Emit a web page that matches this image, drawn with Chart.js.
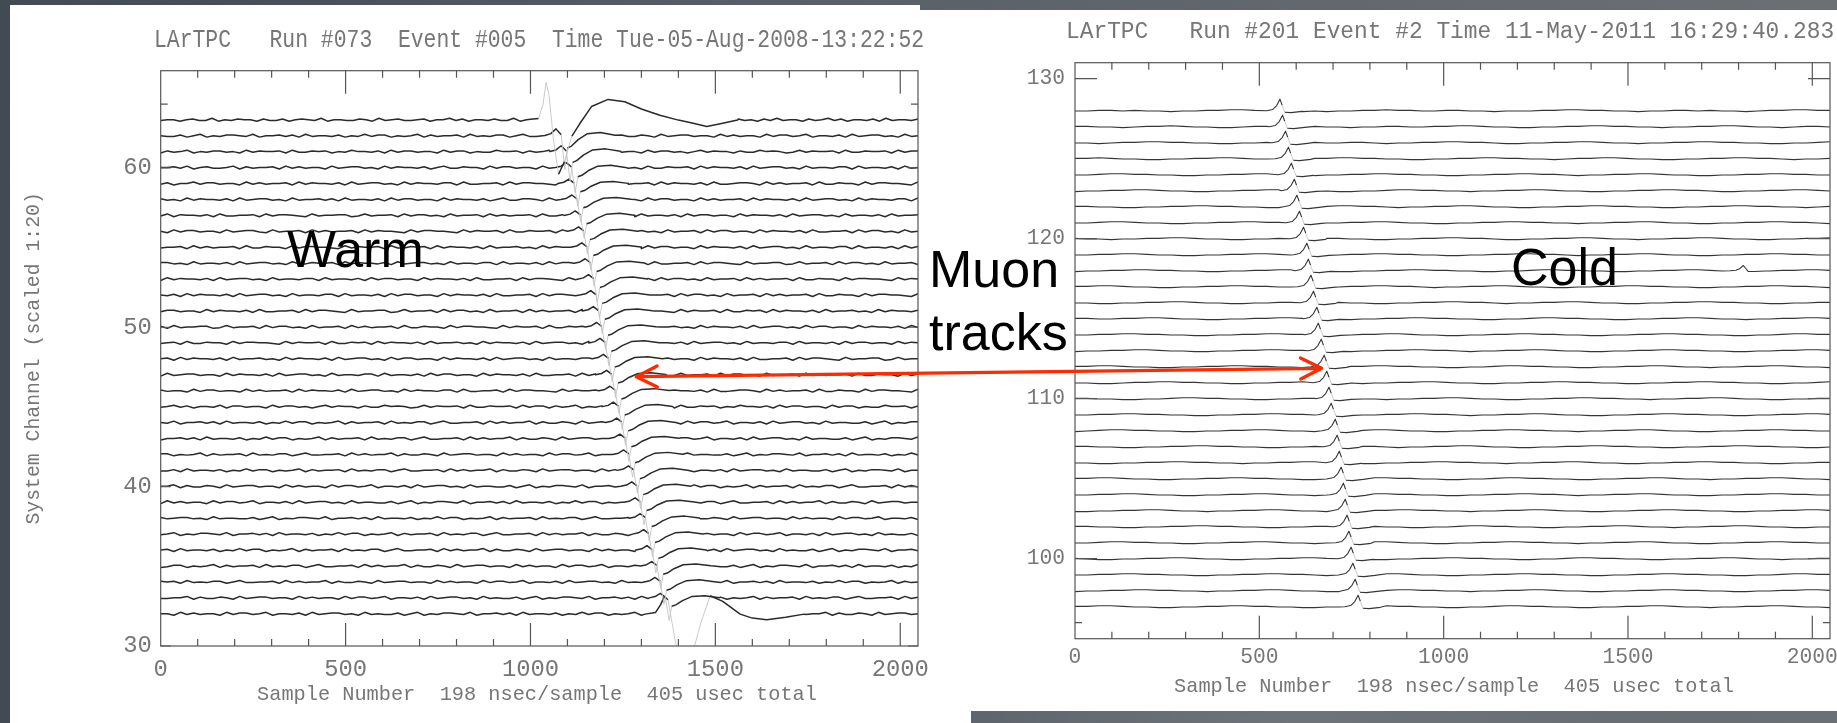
<!DOCTYPE html>
<html>
<head>
<meta charset="utf-8">
<title>LArTPC warm / cold muon tracks</title>
<script src="https://cdn.jsdelivr.net/npm/chart.js@4.4.1/dist/chart.umd.min.js"></script>
<style>
  html, body { margin: 0; padding: 0; }
  body {
    width: 1837px; height: 723px; overflow: hidden; position: relative;
    background-color: #555b62;
    background-image:
      radial-gradient(ellipse 300px 200px at 15% 20%, rgba(0,0,0,0.10), transparent),
      radial-gradient(ellipse 400px 120px at 70% 100%, rgba(255,255,255,0.08), transparent),
      linear-gradient(90deg, #424a54 0%, #5a6068 45%, #6b7075 100%);
  }
  .sheet { position: absolute; background: #fff; }
  canvas { position: absolute; }
</style>
</head>
<body>
<div class="sheet" style="left:10px;top:5px;width:910px;height:718px"></div>
<div class="sheet" style="left:920px;top:10px;width:917px;height:701px"></div>
<div class="sheet" style="left:920px;top:700px;width:51px;height:23px"></div>
<canvas id="warm" width="920" height="718" style="left:10px;top:5px"></canvas>
<canvas id="cold" width="847" height="701" style="left:990px;top:10px"></canvas>
<canvas id="notes" width="1837" height="723" style="left:0;top:0"></canvas>

<script>
const SAMPLES = 2048;
const sampleTicks = [0, 500, 1000, 1500, 2000];

/* ---------- warm run #073: channels 63 .. 32 ---------- */
const warmChannels = [63, 62, 61, 60, 59, 58, 57, 56, 55, 54, 53, 52, 51, 50, 49, 48,
                      47, 46, 45, 44, 43, 42, 41, 40, 39, 38, 37, 36, 35, 34, 33, 32];
// sample where the small positive lobe of each channel sits (null = drawn from warmSpecial)
const warmLobeAt = [null, 1069, 1083, 1097, 1104, 1112, 1121, 1130, 1139, 1148, 1157, 1163,
                    1170, 1179, 1188, 1197, 1206, 1215, 1224, 1233, 1242, 1252, 1265, 1274,
                    1283, 1297, 1306, 1315, 1328, 1337, 1351, null];
const warmGain = [1, 1.5, 1.3, 1.1, 1, 1, 1, 1, 1, 1, 1, 1, 1, 1, 1, 1,
                  1, 1, 1, 1, 1, 1, 1, 1, 1, 1, 1, 1, 1, 1, 1, 1];
// bipolar induction shape: [samples after lobe, channel units]
const warmLobe = [[-30, 0.02], [-14, 0.1], [0, 0.3], [14, 0.05], [24, -1.4], [31, -0.5],
                  [42, -0.42], [60, -0.15], [85, 0.1], [120, 0.15], [160, 0.03]];
// channels with a large signal: [sample, offset from channel]
const warmSpecial = {
  63: [[1000, 0.05], [1022, 0.1], [1034, 1.0], [1042, 2.35], [1050, 1.6], [1062, -1.2],
       [1076, -3.4], [1092, -2.6], [1112, -1.0], [1134, -0.2], [1165, 0.85], [1210, 1.3],
       [1255, 1.15], [1300, 0.7], [1350, 0.3], [1400, 0.0], [1440, -0.2], [1477, -0.4],
       [1520, -0.2], [1560, 0.0]],
  32: [[1310, 0.0], [1338, 0.1], [1352, 0.6], [1362, 1.1], [1372, 0.9], [1390, -1.5],
       [1408, -3.5], [1432, -3.0], [1460, -0.6], [1486, 1.15], [1520, 0.8], [1567, 0.0],
       [1600, -0.25], [1639, -0.35], [1690, -0.2], [1740, 0.0]]
};
const warmNoiseUnit = 0.045;
const warmNoise = [
  "45535644735465536446356547355446537456445635574635546447356455374645563547465536455463745564536474553645746355463745546",
  "54463573546654735564637455463547466354573645563745466357445563746455736446537456645537464553746645735546374566453745",
  "36457354664537465563744656354755463746645537466354475563645746355473664553746645357465536447565347465563744655637466",
  "55647356445736455637464553745664537465546357446553746645537465546374566453744655637465546374566453745546637455463745",
  "46355746645537464556374655463745664537465546637445563746655437465566347455637465546374456653746455637446553746655437",
  "64537465546374566453745564637455463746645537465546357446653745566437456553746645537464556374655463745664537465546637",
  "47365546374455637466543745566347455637466453745563746455637446554374656637455463746645537465546374566453745546374556",
  "53746645537456643745563746455637465543746655437465563744655637465546374566453745563746645537465546374455637466453745",
  "45563746455637446553746655437465563744656374655463745564537465546374566453746645537465546374566453745546637455463746",
  "66453745546374566453744655637465546374566453745546637455463746645537465546374455637466543745566347455637466453745563",
  "37465546374566453745546637455463746645537465546374455637466543745566347455637466453745563746455637446553746655437465",
  "54637465546374566453745546637455463746645537465546374455637466543745566347455637466453745563746455637446553746655437",
  "46645537465546374455637466543745566347455637466453745563746455637446553746655437465563744656374655463745564537465546",
  "63745566347455637466453745563746455637446553746655437465563744656374655463745564537465546374566453746645537465546374",
  "45637446553746655437465563744656374655463745564537465546374566453746645537465546374566453745546637455463746645537465",
  "56374655463745564537465546374566453746645537465546374566453745546637455463746645537465546374455637466543745566347455",
  "37456645537465546374566453745546637455463746645537465546374455637466543745566347455637466453745563746455637446553746",
  "64553746645537464556374655463745664537465546637445563746655437465566347455637465546374456653746455637446553746655437",
  "45746355473664553746645357465536447565347465563744655637466364573546645374655637446563547554637466455374663544755636",
  "54735564637455463547466354573645563745466357445563746455736446537456645537464553746645735546374566453745544635735466",
  "35564637455463547466354573645563745466357445563746455736446537456645537464553746645735546374566453745544635735466547",
  "66354573645563745466357445563746455736446537456645537464553746645735546374566453745544635735466547355646374554635474",
  "44637455463547466354573645563745466357445563746455736446537456645537464553746645735546374566453745544635735466547355",
  "55736446537456645537464553746645735546374566453745544635735466547355646374554635474663545736455637454663574455637464",
  "37464553746645735546374566453745544635735466547355646374554635474663545736455637454663574455637464557364465374566455",
  "64566453745544635735466547355646374554635474663545736455637454663574455637464557364465374566455374645537466457355463",
  "45735466547355646374554635474663545736455637454663574455637464557364465374566455374645537466457355463745664537454463",
  "56374554635474663545736455637454663574455637464557364465374566455374645537466457355463745664537454463573546654735564",
  "34663545736455637454663574455637464557364465374566455374645537466457355463745664537454463573546654735564637455463547",
  "65637454663574455637464557364465374566455374645537466457355463745664537454463573546654735564637455463547466354573645",
  "44557364465374566455374645537466457355463745664537454463573546654735564637455463547466354573645563745466357445563746",
  "55374645537466457355463745664537454463573546654735564637455463547466354573645563745466357445563746455736446537456645"
];

/* ---------- cold run #201: channels 128 .. 97 ---------- */
const coldChannels = [128, 127, 126, 125, 124, 123, 122, 121, 120, 119, 118, 117, 116, 115, 114, 113,
                      112, 111, 110, 109, 108, 107, 106, 105, 104, 103, 102, 101, 100, 99, 98, 97];
const coldPeakAt = [556, 563, 571, 579, 587, 595, 602, 609, 620, 629, 633, 640, 647, 656, 660, 668,
                    676, 683, 689, 695, 706, 711, 717, 722, 728, 733, 738, 743, 749, 754, 760, 768];
// unipolar collection pulse: [samples from peak, channel units]
const coldPeak = [[-36, 0.0], [-20, 0.07], [-9, 0.32], [0, 0.72], [6, 0.34], [13, -0.1], [30, -0.12], [60, -0.04]];
// stray hit: [channel, sample, gain]
const coldExtra = [[118, 1813, 0.45]];
const coldNoiseUnit = 0.04;
const coldNoise = [
  "4455454434455665544343445565544554434445566554434455454434556655",
  "5544345565443345566554434455445566544334455665544344556654434554",
  "4434556655443344556654455434455665543344556654434455665544334456",
  "5565443344556654434455665544334455665544345566544334455665543445",
  "4456655443344556654434455665544334455665543445566544334455665544",
  "3445566544334455665544334456655443445566544334455665543344556654",
  "5544334455665544334455665543445566544334455665544334455665544345",
  "4456654433445566554434455665443344556655443445566544334455665543",
  "5443445566544334455665544334455665543344556654434455665443344556",
  "4455665443344556654434455665544334455665543445566544334455665544",
  "3445566554433445566544334455665544334456655443344556654434455665",
  "5566544334455665544334455665543445566544334455665544334455665543",
  "4433445566544334455665544334455665543445566544334455665544334455",
  "5544556654433445566544334455665544334456655443344556654434455665",
  "4455665544334455665543445566544334455665544334455665544334456655",
  "3445566544334455665544334455665543445566544334455665544334455665",
  "5566544334455665544334455665544334456655443344556654434455665443",
  "4433455665544334455665543445566544334455665544334455665544334456",
  "5544334456655443344556654434455665443344556655443445566544334455",
  "4455665544334455665544334455665543445566544334455665544334455665",
  "3456655443344556654434455665443344556655443445566544334455665544",
  "5544334455665544334455665543445566544334455665544334455665544334",
  "4433445566554434455665443344556655443445566544334455665544334455",
  "5566544334455665544334455665544334456655443344556654434455665443",
  "4455665443344556654434455665544334455665543445566544334455665544",
  "3344556654434455665443344556655443445566544334455665544334455665",
  "5544334455665544334455665544334456655443344556654434455665443344",
  "4456655443344556654434455665443344556655443445566544334455665544",
  "5433445566544334455665544334455665544334456655443344556654434455",
  "4455665544334455665543445566544334455665544334455665544334456655",
  "3445566554434455665443344556655443445566544334455665544334455665",
  "5566544334455665544334455665544334456655443344556654434455665443"
];

const warmYTicks = [30, 40, 50, 60];
const coldYTicks = [100, 110, 120, 130];
// both ends of the red arrow, in each plot's own [sample, channel] units
const arrowWarm = [1286, 46.9];
const arrowCold = [669, 111.9];

/* ---------- building the traces ---------- */
function buildTrace(ch, noise, unit, pulse) {
  const lo = pulse.length ? pulse[0][0] : Infinity;
  const hi = pulse.length ? pulse[pulse.length - 1][0] : -Infinity;
  const pts = [];
  const n = noise.length;
  for (let i = 0; i < n; i++) {
    const s = i * SAMPLES / (n - 1);
    if (s >= lo && s <= hi) continue;
    pts.push({ x: s, y: ch + (noise.charCodeAt(i) - 52.5) * unit });
  }
  for (const [s, v] of pulse) pts.push({ x: s, y: ch + v });
  pts.sort((a, b) => a.x - b.x);
  return pts;
}

function steep(c) {
  const dx = Math.abs(c.p1.x - c.p0.x), dy = Math.abs(c.p1.y - c.p0.y);
  return dy > 7 && dy > 2.2 * dx;
}

function traceSet(data, dark, width) {
  return {
    data, borderColor: dark, borderWidth: width, pointRadius: 0, tension: 0,
    borderJoinStyle: 'round',
    segment: {
      borderColor: c => steep(c) ? '#c4c4c4' : undefined,
      borderWidth: c => steep(c) ? 0.9 : undefined
    }
  };
}

const warmSets = warmChannels.map((ch, i) => {
  let pulse;
  if (warmSpecial[ch]) pulse = warmSpecial[ch];
  else pulse = warmLobe.map(([dx, dv]) => [warmLobeAt[i] + dx, dv * warmGain[i]]);
  return traceSet(buildTrace(ch, warmNoise[i], warmNoiseUnit, pulse), '#2a2a2a', 1.5);
});

const coldSets = coldChannels.map((ch, i) => {
  let pulse = coldPeak.map(([dx, dv]) => [coldPeakAt[i] + dx, dv]);
  let pts = buildTrace(ch, coldNoise[i], coldNoiseUnit, pulse);
  for (const [xc, at, g] of coldExtra) {
    if (xc !== ch) continue;
    const extra = coldPeak.map(([dx, dv]) => ({ x: at + dx, y: ch + dv * g }));
    pts = pts.filter(p => p.x < extra[0].x || p.x > extra[extra.length - 1].x).concat(extra);
    pts.sort((a, b) => a.x - b.x);
  }
  return traceSet(pts, '#353535', 1.1);
});

/* ---------- frame, inner ticks, header and axis caption ---------- */
const MONO = '"Liberation Mono", "DejaVu Sans Mono", monospace';
const INK = '#767676';
const AXIS_CAPTION = 'Sample Number  198 nsec/sample  405 usec total';

function stretchedText(ctx, t) {
  ctx.save();
  ctx.fillStyle = INK;
  ctx.font = t.size + 'px ' + MONO;
  ctx.textBaseline = 'alphabetic';
  ctx.textAlign = t.align || 'left';
  ctx.translate(t.x, t.y);
  ctx.scale(1, t.stretch || 1);
  ctx.fillText(t.text, 0, 0);
  ctx.restore();
}

const frameTicks = {
  id: 'frameTicks',
  afterDatasetsDraw(chart, args, o) {
    const { ctx, chartArea: a, scales: { x, y } } = chart;
    ctx.save();
    ctx.strokeStyle = o.color;
    ctx.lineWidth = 1.2;
    ctx.strokeRect(a.left, a.top, a.right - a.left, a.bottom - a.top);
    ctx.beginPath();
    for (let s = 100; s <= 2000; s += 100) {
      const px = x.getPixelForValue(s);
      const len = s % 500 === 0 ? o.xMajor : o.xMinor;
      ctx.moveTo(px, a.bottom); ctx.lineTo(px, a.bottom - len);
      ctx.moveTo(px, a.top); ctx.lineTo(px, a.top + len);
    }
    for (const [v, len] of o.yMarks) {
      const py = y.getPixelForValue(v);
      ctx.moveTo(a.left, py); ctx.lineTo(a.left + len, py);
      ctx.moveTo(a.right, py); ctx.lineTo(a.right - len, py);
    }
    ctx.stroke();
    ctx.restore();
  },
  afterDraw(chart, args, o) {
    stretchedText(chart.ctx, o.head);
    stretchedText(chart.ctx, Object.assign({ text: AXIS_CAPTION, align: 'center' }, o.foot));
  }
};

function plotOptions(cfg) {
  return {
    responsive: false,
    animation: false,
    devicePixelRatio: 1,
    events: [],
    layout: { padding: cfg.padding },
    plugins: {
      legend: { display: false },
      tooltip: { enabled: false },
      frameTicks: cfg.frame
    },
    scales: {
      x: {
        type: 'linear', min: 0, max: SAMPLES,
        afterBuildTicks: s => { s.ticks = sampleTicks.map(v => ({ value: v })); },
        afterFit: s => { s.height = cfg.xHeight; s.paddingLeft = 0; s.paddingRight = 0; },
        grid: { display: false, drawTicks: false },
        border: { display: false },
        ticks: { autoSkip: false, maxRotation: 0, padding: cfg.xPad, color: INK,
                 font: { family: MONO, size: cfg.tickFont }, callback: v => String(v) }
      },
      y: {
        type: 'linear', min: cfg.yMin, max: cfg.yMax,
        afterBuildTicks: s => { s.ticks = cfg.yTicks.map(v => ({ value: v })); },
        afterFit: s => { s.width = cfg.yWidth; s.paddingTop = 0; s.paddingBottom = 0; },
        grid: { display: false, drawTicks: false },
        border: { display: false },
        ticks: { padding: cfg.yPad, color: INK, font: { family: MONO, size: cfg.tickFont },
                 callback: v => String(v) },
        title: cfg.yTitle
      }
    }
  };
}

const warmChart = new Chart(document.getElementById('warm'), {
  type: 'line',
  data: { datasets: warmSets },
  plugins: [frameTicks],
  options: plotOptions({
    padding: { left: 0, top: 65.7, right: 12, bottom: 0 },
    xHeight: 77, yWidth: 150.7, xPad: 9, yPad: 9, tickFont: 23.8,
    yMin: 30, yMax: 66.1, yTicks: warmYTicks,
    yTitle: { display: true, text: 'System Channel (scaled 1:20)', color: INK,
              font: { family: MONO, size: 19.8 }, padding: { top: 11.6, bottom: 0 } },
    frame: {
      color: '#555', xMajor: 23, xMinor: 7,
      yMarks: [[30, 10], [40, 10], [50, 10], [60, 10], [64, 7]],
      head: { text: 'LArTPC   Run #073  Event #005  Time Tue-05-Aug-2008-13:22:52',
              x: 144, y: 41.7, size: 21.4, stretch: 1.18 },
      foot: { x: 527, y: 694.5, size: 20.3 }
    }
  })
});

const coldChart = new Chart(document.getElementById('cold'), {
  type: 'line',
  data: { datasets: coldSets },
  plugins: [frameTicks],
  options: plotOptions({
    padding: { left: 0, top: 52.7, right: 7, bottom: 0 },
    xHeight: 72.3, yWidth: 85, xPad: 6, yPad: 10, tickFont: 21.3,
    yMin: 95, yMax: 131, yTicks: coldYTicks,
    yTitle: { display: false },
    frame: {
      color: '#555', xMajor: 23, xMinor: 7,
      yMarks: [[100, 22], [110, 22], [120, 22], [130, 22], [96, 7]],
      head: { text: 'LArTPC   Run #201 Event #2 Time 11-May-2011 16:29:40.283',
              x: 76, y: 28, size: 22.86, stretch: 1.02 },
      foot: { x: 464, y: 681.5, size: 20.3 }
    }
  })
});

/* ---------- labels and the arrow joining the two tracks ---------- */
function pagePoint(chart, origin, [s, v]) {
  return [origin[0] + chart.scales.x.getPixelForValue(s), origin[1] + chart.scales.y.getPixelForValue(v)];
}

function arrowHead(ctx, tip, from) {
  const ang = Math.atan2(tip[1] - from[1], tip[0] - from[0]);
  const back = 21, half = 10.5;
  const bx = tip[0] - back * Math.cos(ang), by = tip[1] - back * Math.sin(ang);
  const nx = -Math.sin(ang) * half, ny = Math.cos(ang) * half;
  ctx.moveTo(bx + nx, by + ny); ctx.lineTo(tip[0], tip[1]); ctx.lineTo(bx - nx, by - ny);
}

(function drawNotes() {
  const ctx = document.getElementById('notes').getContext('2d');
  ctx.fillStyle = '#000';
  ctx.font = '52px "Liberation Sans", Arial, sans-serif';
  ctx.textBaseline = 'alphabetic';
  ctx.fillText('Warm', 287, 267);
  ctx.fillText('Muon', 929, 287);
  ctx.fillText('tracks', 929, 350);
  ctx.fillText('Cold', 1511, 285);

  const a = pagePoint(warmChart, [10, 5], arrowWarm);
  const b = pagePoint(coldChart, [990, 10], arrowCold);
  ctx.strokeStyle = '#ff2a00';
  ctx.lineWidth = 3.3;
  ctx.lineCap = 'round';
  ctx.lineJoin = 'round';
  ctx.beginPath();
  ctx.moveTo(a[0], a[1]); ctx.lineTo(b[0], b[1]);
  arrowHead(ctx, b, a);
  arrowHead(ctx, a, b);
  ctx.stroke();
})();
</script>
</body>
</html>
